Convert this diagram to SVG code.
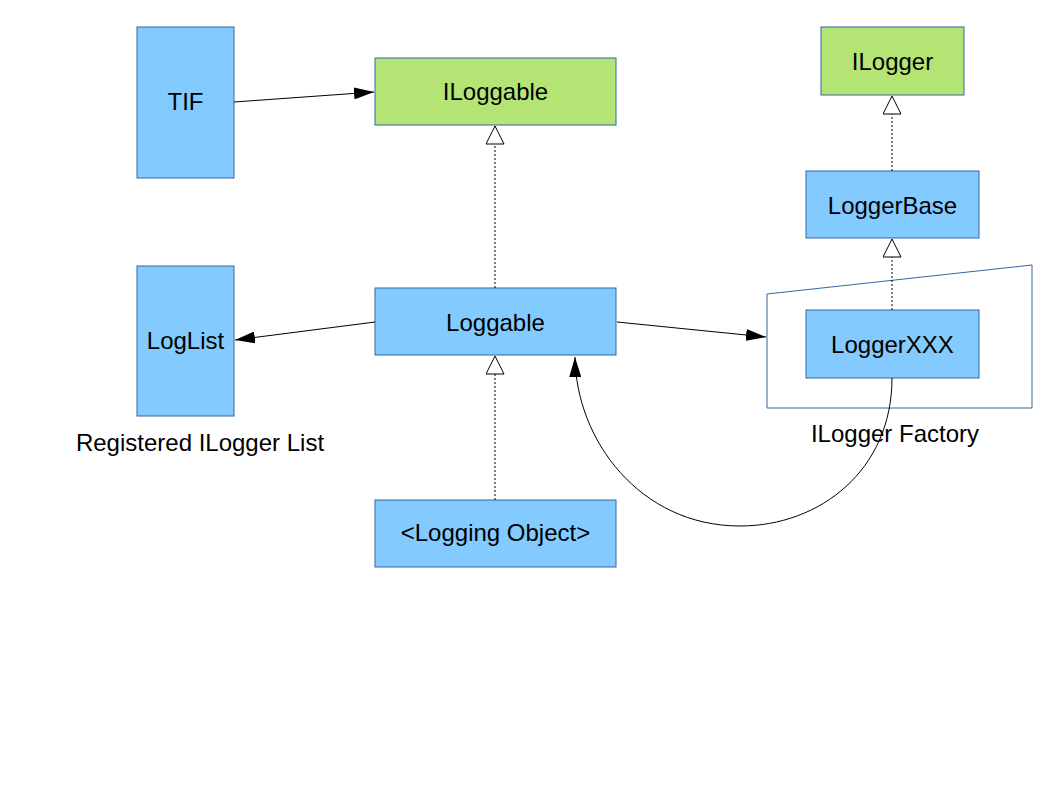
<svg xmlns="http://www.w3.org/2000/svg" width="1058" height="794" viewBox="0 0 1058 794">
<defs>
<style>
.b{fill:#83caff;stroke:#3465a4;stroke-width:1}
.g{fill:#b4e474;stroke:#3465a4;stroke-width:1}
text{font-family:"Liberation Sans",Arial,sans-serif;font-size:24px;fill:#000;text-anchor:middle}
.c{fill:none;stroke:#000;stroke-width:1}
.d{fill:none;stroke:#000;stroke-width:1;stroke-dasharray:2,2}
</style>
<marker id="a" markerWidth="20" markerHeight="12" refX="20" refY="6" orient="auto" markerUnits="userSpaceOnUse"><path d="M0,0 L20,6 L0,12 Z" fill="#000"/></marker>
<marker id="t" markerWidth="20" markerHeight="20" refX="19" refY="9" orient="auto" markerUnits="userSpaceOnUse"><path d="M1,0 L19,9 L1,18 Z" fill="#fff" stroke="#000" stroke-width="1"/></marker>
</defs>
<rect width="1058" height="794" fill="#fff"/>
<g id="factory"><polygon points="767,294 1032,265 1032,408 767,408" fill="none" stroke="#3465a4" stroke-width="1"/><text x="895" y="442">ILogger Factory</text></g>
<g id="TIF"><rect class="b" x="137" y="27" width="97" height="151"/><text x="185.5" y="110">TIF</text></g>
<g id="ILoggable"><rect class="g" x="375" y="58" width="241" height="67"/><text x="495.5" y="100">ILoggable</text></g>
<g id="ILogger"><rect class="g" x="821" y="27" width="143" height="68"/><text x="892.5" y="70">ILogger</text></g>
<g id="LoggerBase"><rect class="b" x="806" y="171" width="173" height="67"/><text x="892.5" y="214">LoggerBase</text></g>
<g id="LoggerXXX"><rect class="b" x="806" y="310" width="173" height="68"/><text x="892.5" y="353">LoggerXXX</text></g>
<g id="Loggable"><rect class="b" x="375" y="288" width="241" height="67"/><text x="495.5" y="331">Loggable</text></g>
<g id="LogList"><rect class="b" x="137" y="266" width="97" height="150"/><text x="185.5" y="349">LogList</text><text x="200" y="451">Registered ILogger List</text></g>
<g id="LoggingObject"><rect class="b" x="375" y="500" width="241" height="67"/><text x="495.5" y="541">&lt;Logging Object&gt;</text></g>
<g id="connectors">
<line class="c" x1="234" y1="102" x2="374" y2="92" marker-end="url(#a)"/>
<line class="c" x1="375" y1="322" x2="235" y2="340" marker-end="url(#a)"/>
<line class="c" x1="617" y1="322" x2="766" y2="337" marker-end="url(#a)"/>
<path class="c" d="M892,378 C892,470 820,526 740,526 C640,526 576,440 575,357" marker-end="url(#a)"/>
<line class="d" x1="495" y1="288" x2="495" y2="126" marker-end="url(#t)"/>
<line class="d" x1="495" y1="500" x2="495" y2="356" marker-end="url(#t)"/>
<line class="d" x1="892" y1="171" x2="892" y2="96" marker-end="url(#t)"/>
<line class="d" x1="892" y1="310" x2="892" y2="239" marker-end="url(#t)"/>
</g>
</svg>
